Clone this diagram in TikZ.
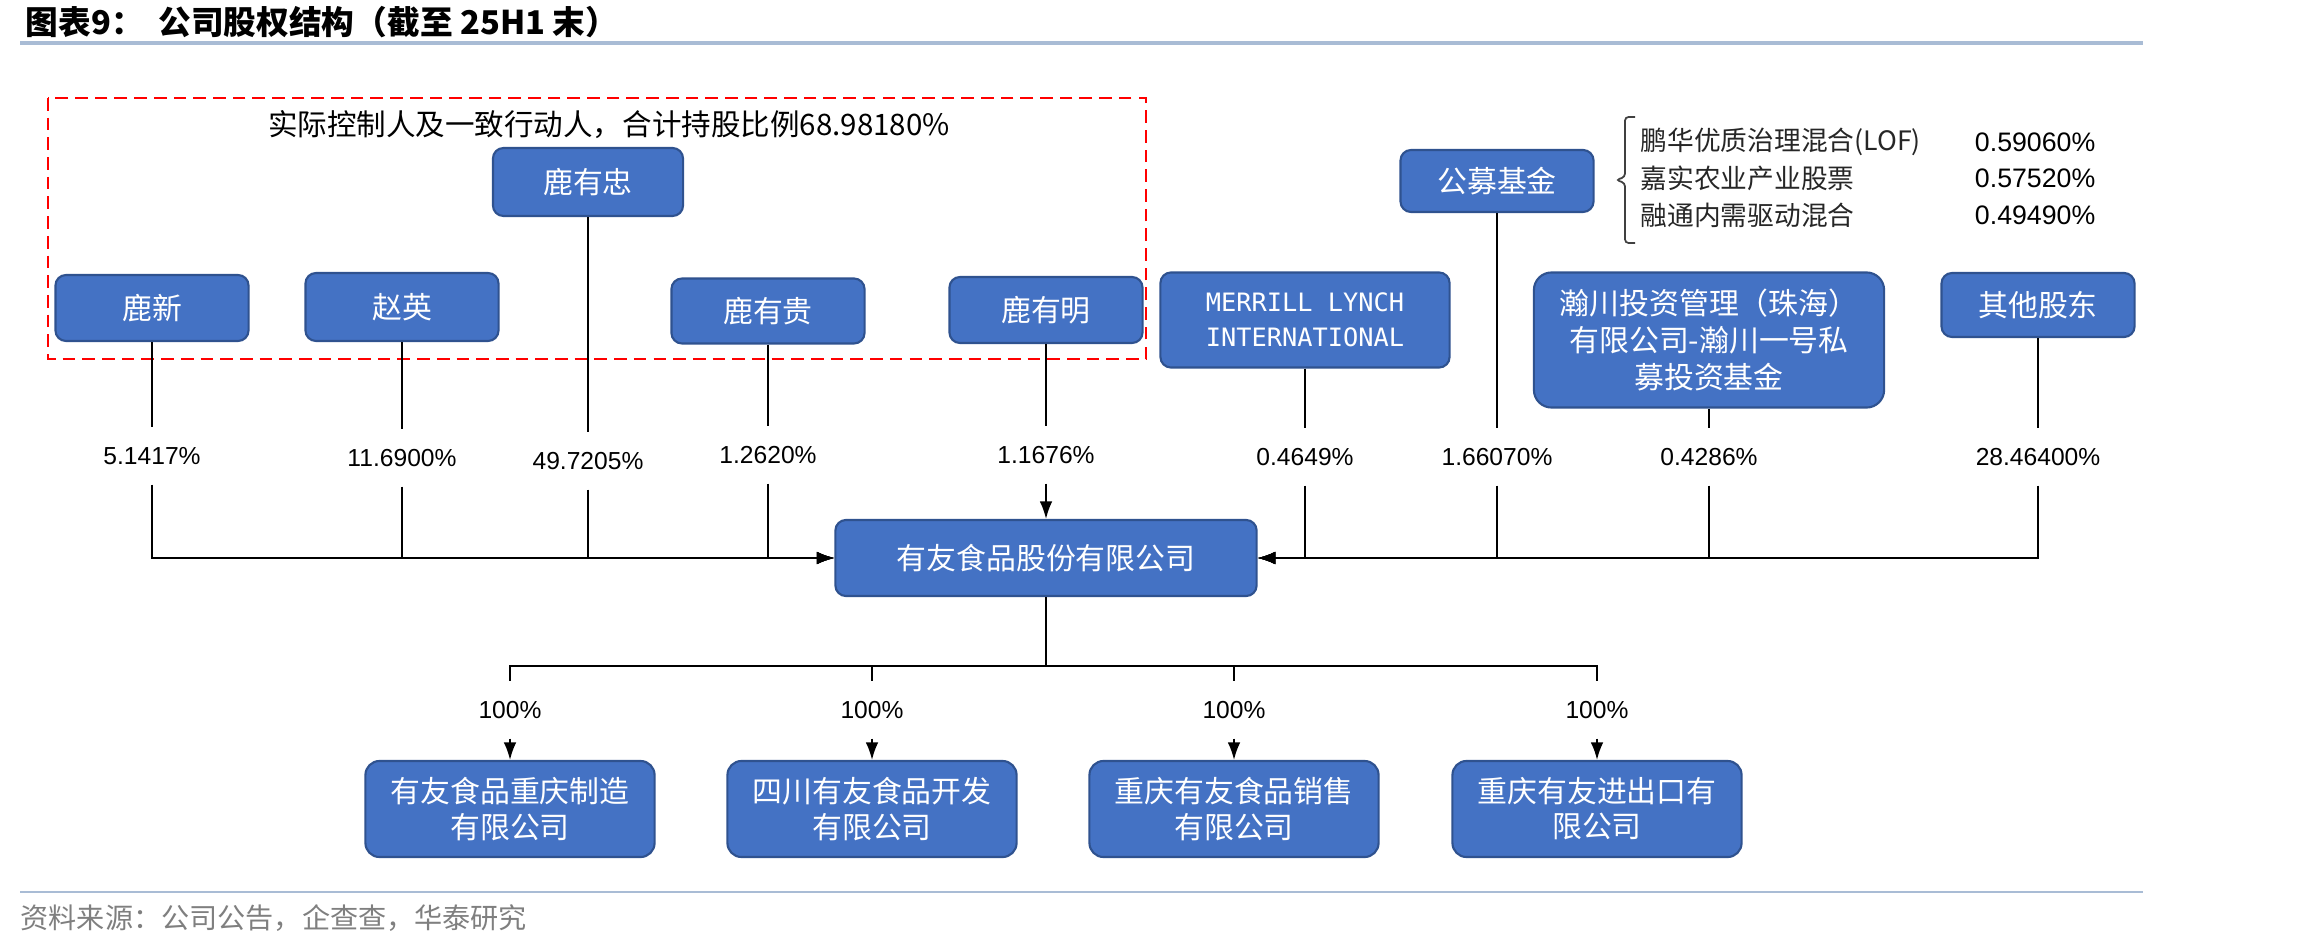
\documentclass[tikz,border=0pt]{standalone}
\usepackage{fontspec}
\setmainfont{Liberation Sans}
\newfontfamily\cjk{Noto Sans CJK SC}
\newfontfamily\latinmono{DejaVu Sans Mono}
\usepackage{xcolor}
\usetikzlibrary{arrows.meta,positioning}
\definecolor{boxblue}{HTML}{4472C4}
\definecolor{boxedge}{HTML}{2F528F}
\definecolor{rulegray}{HTML}{A9BCD5}
\definecolor{srcgray}{HTML}{7F7F7F}

\begin{document}
\begin{tikzpicture}[
    x=0.01cm, y=-0.01cm,
    >={Latex[length=5pt,width=3.6pt]},
    holder/.style={draw=boxedge, line width=0.6pt, fill=boxblue, rounded corners=3pt, text=white, font=\cjk\fontsize{8.5}{10}\selectfont, align=center, inner sep=0pt, minimum width=1.93cm, minimum height=0.66cm},
    sub/.style={holder, minimum width=2.89cm, minimum height=0.96cm, rounded corners=4pt},
    pct/.style={font=\fontsize{7}{8}\selectfont, inner sep=0pt, minimum height=0.56cm},
    link/.style={line width=0.5pt},
    fundname/.style={font=\cjk\fontsize{7.6}{9}\selectfont, text=black!85, anchor=west, inner sep=0pt},
    fundpct/.style={font=\fontsize{7.6}{9}\selectfont, anchor=east, inner sep=0pt}
]
\useasboundingbox (0,0) rectangle (2298,946);

\node[anchor=west, inner sep=0pt, font=\cjk\bfseries\fontsize{9.3}{11}\selectfont] (title) at (25,22) {图表9：\hspace{0.45em}公司股权结构（截至 25H1 末）};
\draw[rulegray, line width=1pt] (20,43) -- (2143,43);

\draw[red, line width=0.7pt, dash pattern=on 3.6pt off 2pt] (48,98) rectangle (1146,359);
\node[font=\cjk\fontsize{8.4}{10}\selectfont] (ctrltitle) at (609,125) {实际控制人及一致行动人，合计持股比例68.98180\%};

\node[holder, minimum width=1.9cm, minimum height=0.68cm] (lyz) at (588,182) {鹿有忠};
\node[holder] (lx) at (152,308) {鹿新};
\node[holder, minimum height=0.68cm] (zy) at (402,307) {赵英};
\node[holder, minimum height=0.65cm] (lyg) at (768,311) {鹿有贵};
\node[holder] (lym) at (1046,310) {鹿有明};
\node[holder, minimum width=2.89cm, minimum height=0.95cm, font=\latinmono\fontsize{7.2}{10}\selectfont] (ml) at (1305,320) {MERRILL LYNCH\\INTERNATIONAL};
\node[holder, minimum height=0.62cm] (fund) at (1497,181) {公募基金};
\node[holder, minimum width=3.5cm, minimum height=1.35cm, rounded corners=5pt, font=\cjk\fontsize{8.5}{10.4}\selectfont] (hc) at (1709,340) {瀚川投资管理（珠海）\\有限公司-瀚川一号私\\募投资基金};
\node[holder, minimum height=0.64cm] (qt) at (2038,305) {其他股东};

\draw[line width=0.5pt, black!75, rounded corners=1pt] (1635,117) -- (1625,117) -- (1625,177) -- (1616,180) -- (1625,183) -- (1625,243) -- (1635,243);
\node[fundname] (f1) at (1640,142) {鹏华优质治理混合(LOF)};
\node[fundname] (f2) at (1640,178) {嘉实农业产业股票};
\node[fundname] (f3) at (1640,215) {融通内需驱动混合};
\node[fundpct] (f1v) at (2096,142) {0.59060\%};
\node[fundpct] (f2v) at (2096,178) {0.57520\%};
\node[fundpct] (f3v) at (2096,215) {0.49490\%};

\node[holder, minimum width=4.21cm, minimum height=0.76cm] (yy) at (1046,558) {有友食品股份有限公司};

\node[pct] (p1) at (152,456) {5.1417\%};
\node[pct] (p2) at (402,458) {11.6900\%};
\node[pct] (p3) at (588,461) {49.7205\%};
\node[pct] (p4) at (768,455) {1.2620\%};
\node[pct] (p5) at (1046,455) {1.1676\%};
\node[pct] (p6) at (1305,457) {0.4649\%};
\node[pct] (p7) at (1497,457) {1.66070\%};
\node[pct] (p8) at (1709,457) {0.4286\%};
\node[pct] (p9) at (2038,457) {28.46400\%};

\draw[link] (lx) -- (p1);
\draw[link] (zy) -- (p2);
\draw[link] (lyz) -- (p3);
\draw[link] (lyg) -- (p4);
\draw[link] (lym) -- (p5);
\draw[link] (ml) -- (p6);
\draw[link] (fund) -- (p7);
\draw[link] (hc) -- (p8);
\draw[link] (qt) -- (p9);

\draw[link, ->] (p1.south) |- (yy.west);
\draw[link, ->] (p2.south) |- (yy.west);
\draw[link, ->] (p3.south) |- (yy.west);
\draw[link, ->] (p4.south) |- (yy.west);
\draw[link, ->] (p5.south) -- (yy.north);
\draw[link, ->] (p6.south) |- (yy.east);
\draw[link, ->] (p7.south) |- (yy.east);
\draw[link, ->] (p8.south) |- (yy.east);
\draw[link, ->] (p9.south) |- (yy.east);

\node[sub] (s1) at (510,809) {有友食品重庆制造\\有限公司};
\node[sub] (s2) at (872,809) {四川有友食品开发\\有限公司};
\node[sub] (s3) at (1234,809) {重庆有友食品销售\\有限公司};
\node[sub] (s4) at (1597,809) {重庆有友进出口有\\限公司};

\node[pct] (q1) at (510,710) {100\%};
\node[pct] (q2) at (872,710) {100\%};
\node[pct] (q3) at (1234,710) {100\%};
\node[pct] (q4) at (1597,710) {100\%};

\coordinate (sbus) at (1046,666);
\draw[link] (yy) -- (sbus);
\draw[link] (sbus) -| (q1);
\draw[link] (sbus) -| (q2);
\draw[link] (sbus) -| (q3);
\draw[link] (sbus) -| (q4);
\draw[link, ->] (q1) -- (s1);
\draw[link, ->] (q2) -- (s2);
\draw[link, ->] (q3) -- (s3);
\draw[link, ->] (q4) -- (s4);

\draw[rulegray, line width=0.8pt] (20,892) -- (2143,892);
\node[anchor=west, inner sep=0pt, text=srcgray, font=\cjk\fontsize{8}{10}\selectfont] (src) at (20,918) {资料来源：公司公告，企查查，华泰研究};
\end{tikzpicture}
\end{document}
